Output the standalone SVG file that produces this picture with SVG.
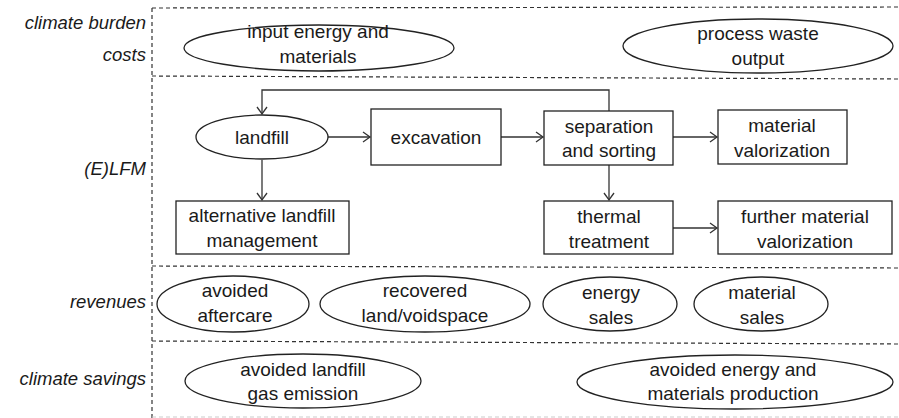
<svg xmlns="http://www.w3.org/2000/svg" width="899" height="418" viewBox="0 0 899 418">
<style>
text{font-family:"Liberation Sans",Arial,sans-serif;font-size:19px;fill:#1a1a1a;text-anchor:middle}
.lbl{font-style:italic;text-anchor:end;font-size:18.5px}
.shape{fill:#fff;stroke:#222;stroke-width:1.3}
.dash{stroke:#333;stroke-width:1.2;stroke-dasharray:4 3;fill:none}
.conn{stroke:#333;stroke-width:1.3;fill:none;marker-end:url(#arr)}
</style>
<defs>
<marker id="arr" markerWidth="12" markerHeight="12" refX="10" refY="6" orient="auto" markerUnits="userSpaceOnUse">
<polyline points="3,1 10,6 3,11" fill="none" stroke="#333" stroke-width="1.3"/>
</marker>
</defs>
<g id="grid">
<line class="dash" x1="152" y1="8" x2="152" y2="418"/>
<line class="dash" x1="152" y1="8" x2="899" y2="7"/>
<line class="dash" x1="152" y1="76" x2="899" y2="79"/>
<line class="dash" x1="152" y1="266" x2="899" y2="268"/>
<line class="dash" x1="152" y1="341" x2="899" y2="344"/>
<line class="dash" x1="152" y1="417" x2="899" y2="417" style="stroke:#ccc"/>
</g>
<g id="labels">
<text class="lbl" x="146" y="29">climate burden</text>
<text class="lbl" x="146" y="61">costs</text>
<text class="lbl" x="146" y="175">(E)LFM</text>
<text class="lbl" x="146" y="308">revenues</text>
<text class="lbl" x="146" y="385">climate savings</text>
</g>
<g id="connectors">
<polyline class="conn" points="609,111 609,90 262,90 262,114"/>
<line class="conn" x1="328" y1="137" x2="370" y2="137"/>
<line class="conn" x1="501" y1="137" x2="543" y2="137"/>
<line class="conn" x1="673" y1="137" x2="717" y2="137"/>
<line class="conn" x1="262" y1="160" x2="262" y2="200"/>
<line class="conn" x1="609" y1="165" x2="609" y2="200"/>
<line class="conn" x1="673" y1="228" x2="717" y2="228"/>
</g>
<g id="input-energy">
<ellipse class="shape" cx="319" cy="48" rx="135" ry="23"/>
<text x="318" y="38">input energy and</text>
<text x="318" y="63">materials</text>
</g>
<g id="process-waste">
<ellipse class="shape" cx="758" cy="46" rx="135" ry="27"/>
<text x="758" y="40">process waste</text>
<text x="758" y="65">output</text>
</g>
<g id="landfill">
<ellipse class="shape" cx="262" cy="137" rx="66" ry="22"/>
<text x="262" y="144">landfill</text>
</g>
<g id="excavation">
<rect class="shape" x="371" y="109" width="130" height="56"/>
<text x="436" y="144">excavation</text>
</g>
<g id="separation">
<rect class="shape" x="544" y="111" width="129" height="54"/>
<text x="609" y="133">separation</text>
<text x="609" y="157">and sorting</text>
</g>
<g id="material-valorization">
<rect class="shape" x="718" y="110" width="129" height="54"/>
<text x="782" y="132">material</text>
<text x="782" y="157">valorization</text>
</g>
<g id="alternative">
<rect class="shape" x="176" y="201" width="173" height="53"/>
<text x="262" y="222">alternative landfill</text>
<text x="262" y="247">management</text>
</g>
<g id="thermal">
<rect class="shape" x="544" y="201" width="129" height="53"/>
<text x="609" y="223">thermal</text>
<text x="609" y="248">treatment</text>
</g>
<g id="further">
<rect class="shape" x="718" y="201" width="174" height="53"/>
<text x="805" y="223">further material</text>
<text x="805" y="248">valorization</text>
</g>
<g id="aftercare">
<ellipse class="shape" cx="233" cy="304" rx="76" ry="28"/>
<text x="235" y="297">avoided</text>
<text x="235" y="322">aftercare</text>
</g>
<g id="recovered">
<ellipse class="shape" cx="425" cy="304" rx="105" ry="28"/>
<text x="425" y="297">recovered</text>
<text x="425" y="322">land/voidspace</text>
</g>
<g id="energy-sales">
<ellipse class="shape" cx="610" cy="304" rx="67" ry="27"/>
<text x="611" y="299">energy</text>
<text x="611" y="324">sales</text>
</g>
<g id="material-sales">
<ellipse class="shape" cx="761" cy="304" rx="67" ry="27"/>
<text x="762" y="299">material</text>
<text x="762" y="324">sales</text>
</g>
<g id="landfill-gas">
<ellipse class="shape" cx="303" cy="381" rx="118" ry="27"/>
<text x="303" y="376">avoided landfill</text>
<text x="303" y="400">gas emission</text>
</g>
<g id="avoided-production">
<ellipse class="shape" cx="735" cy="382" rx="158" ry="27"/>
<text x="733" y="376">avoided energy and</text>
<text x="733" y="400">materials production</text>
</g>
</svg>
